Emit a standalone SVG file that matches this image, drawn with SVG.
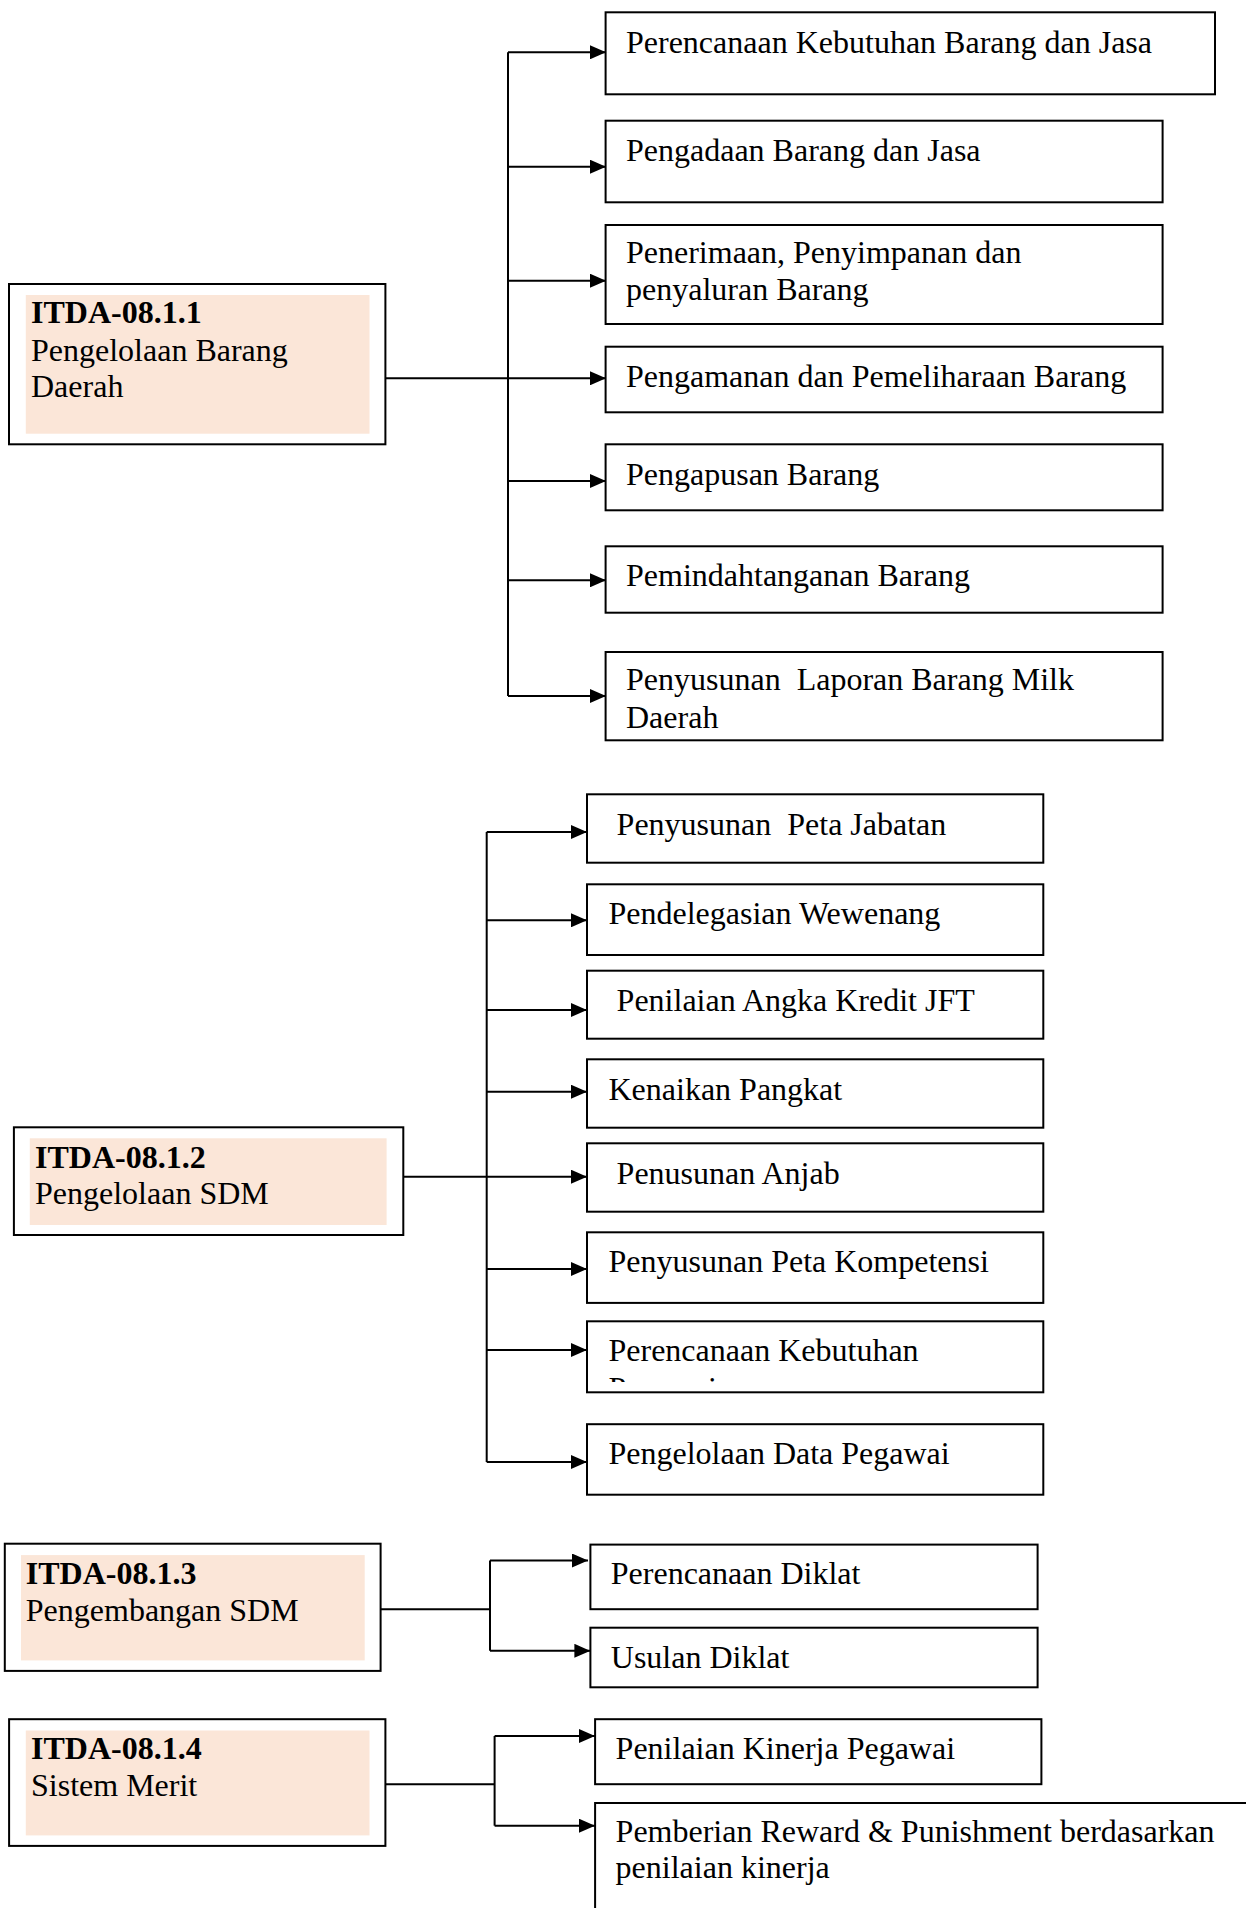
<svg xmlns="http://www.w3.org/2000/svg" width="1246" height="1908" viewBox="0 0 1246 1908">
<style>
.box{fill:#fff;stroke:#000;stroke-width:2}
.fill{fill:#FBE6D8;stroke:none}
.t{font-family:"Liberation Serif","Times New Roman",serif;font-size:32px;fill:#000;white-space:pre}
.b{font-weight:bold}
.ln{fill:none;stroke:#000;stroke-width:2}
.ar{fill:none;stroke:#000;stroke-width:2;marker-end:url(#ah)}
</style>
<defs>
<marker id="ah" markerUnits="userSpaceOnUse" markerWidth="16" markerHeight="14" refX="16" refY="7" orient="auto">
<path d="M0,0 L16,7 L0,14 z" fill="#000"/>
</marker>
<clipPath id="clipB7"><rect x="587" y="1321" width="457" height="61"/></clipPath>
</defs>
<rect width="1246" height="1908" fill="#fff"/>

<g id="connectors">
<path class="ln" d="M385,378.3 H508"/>
<path class="ln" d="M508,52.3 V696"/>
<path class="ar" d="M508,52.3 H606"/>
<path class="ar" d="M508,166.7 H606"/>
<path class="ar" d="M508,280.7 H606"/>
<path class="ar" d="M508,378.3 H606"/>
<path class="ar" d="M508,481 H606"/>
<path class="ar" d="M508,580.3 H606"/>
<path class="ar" d="M508,696 H606"/>

<path class="ln" d="M403,1176.7 H486.7"/>
<path class="ln" d="M486.7,832 V1462"/>
<path class="ar" d="M486.7,832 H587"/>
<path class="ar" d="M486.7,920.3 H587"/>
<path class="ar" d="M486.7,1010 H587"/>
<path class="ar" d="M486.7,1091.7 H587"/>
<path class="ar" d="M486.7,1176.7 H587"/>
<path class="ar" d="M486.7,1269 H587"/>
<path class="ar" d="M486.7,1350 H587"/>
<path class="ar" d="M486.7,1462 H587"/>

<path class="ln" d="M380.6,1609.2 H490"/>
<path class="ln" d="M490,1560.5 V1650.8"/>
<path class="ar" d="M490,1560.5 H588"/>
<path class="ar" d="M490,1650.8 H590.4"/>

<path class="ln" d="M385.4,1784.2 H494.6"/>
<path class="ln" d="M494.6,1736 V1825.7"/>
<path class="ar" d="M494.6,1736 H595"/>
<path class="ar" d="M494.6,1825.7 H595"/>
</g>

<g id="root1">
<rect class="box" x="9" y="284" width="376.4" height="160.3"/>
<rect class="fill" x="25.8" y="295" width="343.7" height="138.7"/>
<text class="t b" x="31" y="323.3">ITDA-08.1.1</text>
<text class="t" x="31" y="360.7">Pengelolaan Barang</text>
<text class="t" x="31" y="397.3">Daerah</text>
</g>

<g id="a1"><rect class="box" x="605.6" y="12.3" width="609.4" height="82"/><text class="t" x="626" y="52.7">Perencanaan Kebutuhan Barang dan Jasa</text></g>
<g id="a2"><rect class="box" x="605.6" y="120.7" width="557" height="81.6"/><text class="t" x="626" y="160.7">Pengadaan Barang dan Jasa</text></g>
<g id="a3"><rect class="box" x="605.6" y="225" width="557" height="99"/><text class="t" x="626" y="263.3">Penerimaan, Penyimpanan dan</text><text class="t" x="626" y="300">penyaluran Barang</text></g>
<g id="a4"><rect class="box" x="605.6" y="346.7" width="557" height="65.6"/><text class="t" x="626" y="386.7">Pengamanan dan Pemeliharaan Barang</text></g>
<g id="a5"><rect class="box" x="605.6" y="444.3" width="557" height="66"/><text class="t" x="626" y="485">Pengapusan Barang</text></g>
<g id="a6"><rect class="box" x="605.6" y="546.3" width="557" height="66.4"/><text class="t" x="626" y="586">Pemindahtanganan Barang</text></g>
<g id="a7"><rect class="box" x="605.6" y="652" width="557" height="88.3"/><text class="t" x="626" y="690.3" xml:space="preserve">Penyusunan  Laporan Barang Milk</text><text class="t" x="626" y="727.7">Daerah</text></g>

<g id="root2">
<rect class="box" x="13.9" y="1127.3" width="389.4" height="107.7"/>
<rect class="fill" x="29.8" y="1138.3" width="356.8" height="86.7"/>
<text class="t b" x="35" y="1167.7">ITDA-08.1.2</text>
<text class="t" x="35" y="1204">Pengelolaan SDM</text>
</g>

<g id="b1"><rect class="box" x="587" y="794.3" width="456.3" height="68.4"/><text class="t" x="616.6" y="834.7" xml:space="preserve">Penyusunan  Peta Jabatan</text></g>
<g id="b2"><rect class="box" x="587" y="884.3" width="456.3" height="70.7"/><text class="t" x="608.5" y="924">Pendelegasian Wewenang</text></g>
<g id="b3"><rect class="box" x="587" y="970.7" width="456.3" height="68"/><text class="t" x="616.6" y="1010.7">Penilaian Angka Kredit JFT</text></g>
<g id="b4"><rect class="box" x="587" y="1059.3" width="456.3" height="68.4"/><text class="t" x="608.5" y="1100">Kenaikan Pangkat</text></g>
<g id="b5"><rect class="box" x="587" y="1143.3" width="456.3" height="68.4"/><text class="t" x="616.6" y="1184">Penusunan Anjab</text></g>
<g id="b6"><rect class="box" x="587" y="1232.3" width="456.3" height="70.6"/><text class="t" x="608.5" y="1271.8">Penyusunan Peta Kompetensi</text></g>
<g id="b7"><rect class="box" x="587" y="1321.3" width="456.3" height="71"/><g clip-path="url(#clipB7)"><text class="t" x="608.5" y="1361.2">Perencanaan Kebutuhan</text><text class="t" x="608.5" y="1398.5">Pegawai</text></g></g>
<g id="b8"><rect class="box" x="587" y="1424.2" width="456.3" height="70.5"/><text class="t" x="608.5" y="1464">Pengelolaan Data Pegawai</text></g>

<g id="root3">
<rect class="box" x="4.8" y="1543.7" width="375.8" height="127.2"/>
<rect class="fill" x="21" y="1555.1" width="343.7" height="105.3"/>
<text class="t b" x="25.8" y="1584.4">ITDA-08.1.3</text>
<text class="t" x="25.8" y="1621.4">Pengembangan SDM</text>
</g>
<g id="c1"><rect class="box" x="590.4" y="1544.6" width="447.2" height="64.6"/><text class="t" x="610.8" y="1584.4">Perencanaan Diklat</text></g>
<g id="c2"><rect class="box" x="590.4" y="1627.7" width="447.2" height="59.6"/><text class="t" x="610.8" y="1667.5">Usulan Diklat</text></g>

<g id="root4">
<rect class="box" x="9.1" y="1719.2" width="376.3" height="126.7"/>
<rect class="fill" x="25.8" y="1730.5" width="343.7" height="104.9"/>
<text class="t b" x="31" y="1759">ITDA-08.1.4</text>
<text class="t" x="31" y="1796.4">Sistem Merit</text>
</g>
<g id="d1"><rect class="box" x="595.1" y="1719.2" width="446.3" height="65"/><text class="t" x="615.6" y="1758.6">Penilaian Kinerja Pegawai</text></g>
<g id="d2"><rect class="box" x="595.1" y="1803" width="670" height="130"/><text class="t" x="615.6" y="1841.7">Pemberian Reward &amp; Punishment berdasarkan</text><text class="t" x="615.6" y="1878.2">penilaian kinerja</text></g>
</svg>
